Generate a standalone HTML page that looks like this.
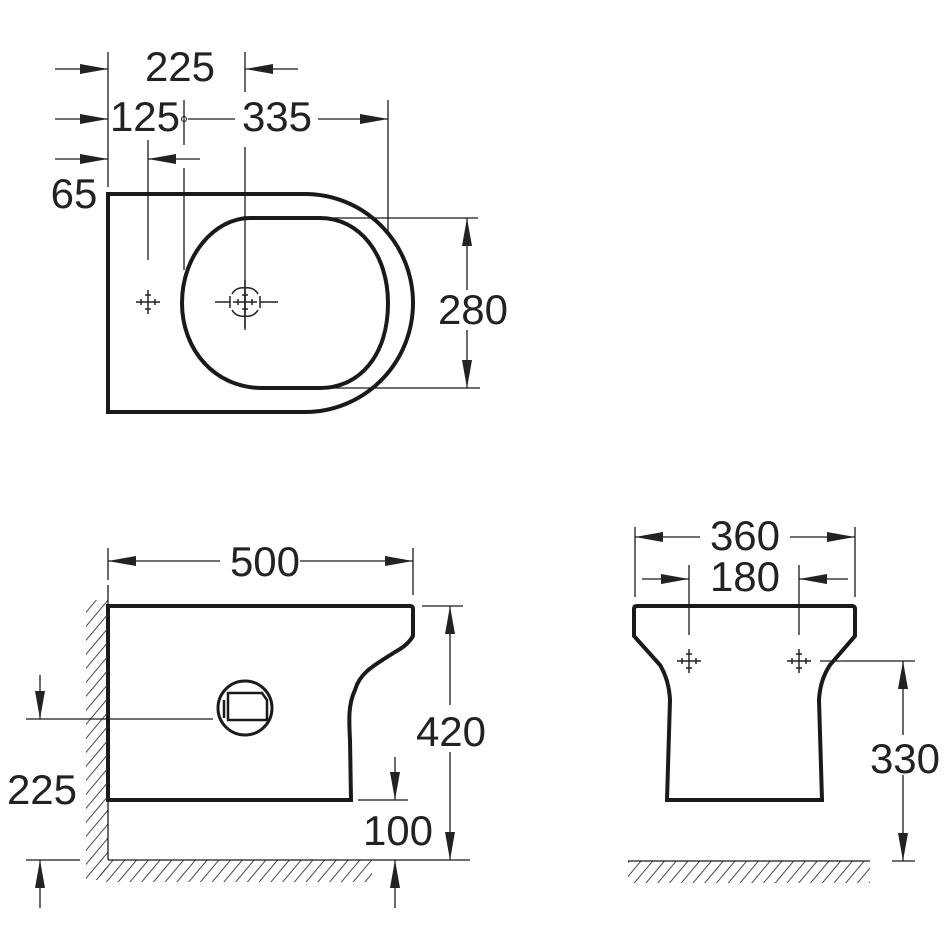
<!DOCTYPE html>
<html><head><meta charset="utf-8"><style>html,body{margin:0;padding:0;background:#fff}svg{display:block}text{font-family:"Liberation Sans",sans-serif;font-size:42px;fill:#222}</style></head>
<body>
<svg width="950" height="950" viewBox="0 0 950 950" xmlns="http://www.w3.org/2000/svg">
<defs>
<marker id="a" markerUnits="userSpaceOnUse" markerWidth="30" markerHeight="12" refX="28" refY="6" orient="auto"><path d="M0,1 L28,6 L0,11 Z" fill="#222"/></marker>
<pattern id="h" patternUnits="userSpaceOnUse" width="9" height="10" patternTransform="rotate(40)"><line x1="0" y1="0" x2="0" y2="10" stroke="#333" stroke-width="1.8"/></pattern>
<g id="cr"><g stroke="#222" stroke-width="1.5" fill="none"><line x1="-12" y1="0" x2="12" y2="0"/><line x1="0" y1="-12" x2="0" y2="12"/><line x1="-7" y1="-3" x2="-7" y2="3"/><line x1="7" y1="-3" x2="7" y2="3"/><line x1="-3" y1="-7" x2="3" y2="-7"/><line x1="-3" y1="7" x2="3" y2="7"/></g></g>
</defs>
<g fill="none" stroke="#1a1a1a">
<path d="M108,194 H305 A108,109 0 0 1 305,412 H108 Z" stroke-width="4"/>
<path d="M250,218 H320 C360,218 388,255 388,303 C388,355 360,388 320,388 H262 C215,388 182,350 182,303 C182,255 215,218 250,218 Z" stroke-width="4"/>
<g stroke-width="1.3">
<line x1="108" y1="52" x2="108" y2="187"/><line x1="245" y1="52" x2="245" y2="92"/>
<line x1="184" y1="100" x2="184" y2="145"/><line x1="184" y1="168" x2="184" y2="270"/>
<line x1="148" y1="140" x2="148" y2="260"/><line x1="245" y1="147" x2="245" y2="330"/>
<line x1="388" y1="100" x2="388" y2="232"/>
<line x1="55" y1="69" x2="108" y2="69" marker-end="url(#a)"/>
<line x1="298" y1="69" x2="245" y2="69" marker-end="url(#a)"/>
<line x1="55" y1="119" x2="108" y2="119" marker-end="url(#a)"/>
<line x1="188" y1="119" x2="235" y2="119"/>
<line x1="318" y1="119" x2="388" y2="119" marker-end="url(#a)"/>
<line x1="55" y1="159" x2="108" y2="159" marker-end="url(#a)"/>
<line x1="200" y1="159" x2="148" y2="159" marker-end="url(#a)"/>
<line x1="330" y1="218" x2="478" y2="218"/><line x1="332" y1="388" x2="480" y2="388"/>
<line x1="467" y1="290" x2="467" y2="218" marker-end="url(#a)"/>
<line x1="467" y1="330" x2="467" y2="388" marker-end="url(#a)"/>
</g>
<circle cx="184" cy="119" r="2.5" stroke-width="1"/>
<path d="M108,606 H410 Q413,606 413,609 V636 Q408,645 395,652 C375,665 360,672 355,690 C348,705 349,720 350,740 L351,800 H108 Z" stroke-width="4"/>
<circle cx="245" cy="708" r="27" stroke-width="3"/>
<path d="M228,693 H262 L267,700 V720 H228 Z M224,700 V718" stroke-width="2.5"/>
<rect x="86" y="600" width="22" height="280" fill="url(#h)" stroke="none"/>
<rect x="100" y="860" width="272" height="22" fill="url(#h)" stroke="none"/>
<g stroke-width="1.3">
<line x1="108" y1="585" x2="108" y2="860"/><line x1="108" y1="860" x2="470" y2="860"/>
<line x1="108" y1="548" x2="108" y2="580"/><line x1="413" y1="548" x2="413" y2="595"/>
<line x1="220" y1="561" x2="108" y2="561" marker-end="url(#a)"/>
<line x1="300" y1="561" x2="413" y2="561" marker-end="url(#a)"/>
<line x1="422" y1="606" x2="463" y2="606"/>
<line x1="450" y1="705" x2="450" y2="606" marker-end="url(#a)"/>
<line x1="450" y1="752" x2="450" y2="860" marker-end="url(#a)"/>
<line x1="26" y1="719" x2="213" y2="719"/><line x1="26" y1="860" x2="80" y2="860"/>
<line x1="40" y1="675" x2="40" y2="719" marker-end="url(#a)"/>
<line x1="40" y1="908" x2="40" y2="860" marker-end="url(#a)"/>
<line x1="358" y1="800" x2="408" y2="800"/>
<line x1="395" y1="757" x2="395" y2="800" marker-end="url(#a)"/>
<line x1="395" y1="908" x2="395" y2="860" marker-end="url(#a)"/>
</g>
<path d="M637,606 H852 Q855,606 855,609 V636 L830,665 Q820,680 819,700 L822,800 H667 L670,700 Q669,680 660,665 L634,636 V609 Q634,606 637,606 Z" stroke-width="4"/>
<rect x="628" y="861" width="242" height="22" fill="url(#h)" stroke="none"/>
<g stroke-width="1.3">
<line x1="628" y1="861" x2="870" y2="861"/>
<line x1="635" y1="527" x2="635" y2="597"/><line x1="855" y1="527" x2="855" y2="597"/>
<line x1="689" y1="565" x2="689" y2="635"/><line x1="799" y1="565" x2="799" y2="635"/>
<line x1="700" y1="537" x2="635" y2="537" marker-end="url(#a)"/>
<line x1="790" y1="537" x2="855" y2="537" marker-end="url(#a)"/>
<line x1="642" y1="579" x2="689" y2="579" marker-end="url(#a)"/>
<line x1="848" y1="579" x2="799" y2="579" marker-end="url(#a)"/>
<line x1="820" y1="661" x2="915" y2="661"/><line x1="892" y1="861" x2="915" y2="861"/>
<line x1="903" y1="735" x2="903" y2="661" marker-end="url(#a)"/>
<line x1="903" y1="775" x2="903" y2="861" marker-end="url(#a)"/>
</g>
</g>
<use href="#cr" x="148" y="302"/>
<use href="#cr" x="245" y="302"/>
<g fill="none" stroke="#222" stroke-width="1.5"><path d="M232,294 a12,12 0 0 1 13,-6 a12,12 0 0 1 13,6 M232,310 a12,12 0 0 0 13,6 a12,12 0 0 0 13,-6 M230,296 v12 M260,296 v12"/><line x1="215" y1="302" x2="230" y2="302"/><line x1="260" y1="302" x2="278" y2="302"/><line x1="245" y1="280" x2="245" y2="328"/></g>
<use href="#cr" x="689" y="661"/>
<use href="#cr" x="799" y="661"/>
<text x="180" y="81" text-anchor="middle">225</text>
<text x="145" y="131" text-anchor="middle">125</text>
<text x="277" y="131" text-anchor="middle">335</text>
<text x="74" y="208" text-anchor="middle">65</text>
<text x="473" y="324" text-anchor="middle">280</text>
<text x="265" y="576" text-anchor="middle">500</text>
<text x="451" y="746" text-anchor="middle">420</text>
<text x="42" y="804" text-anchor="middle">225</text>
<text x="398" y="845" text-anchor="middle">100</text>
<text x="745" y="550" text-anchor="middle">360</text>
<text x="745" y="591" text-anchor="middle">180</text>
<text x="905" y="773" text-anchor="middle">330</text>
</svg>
</body></html>
